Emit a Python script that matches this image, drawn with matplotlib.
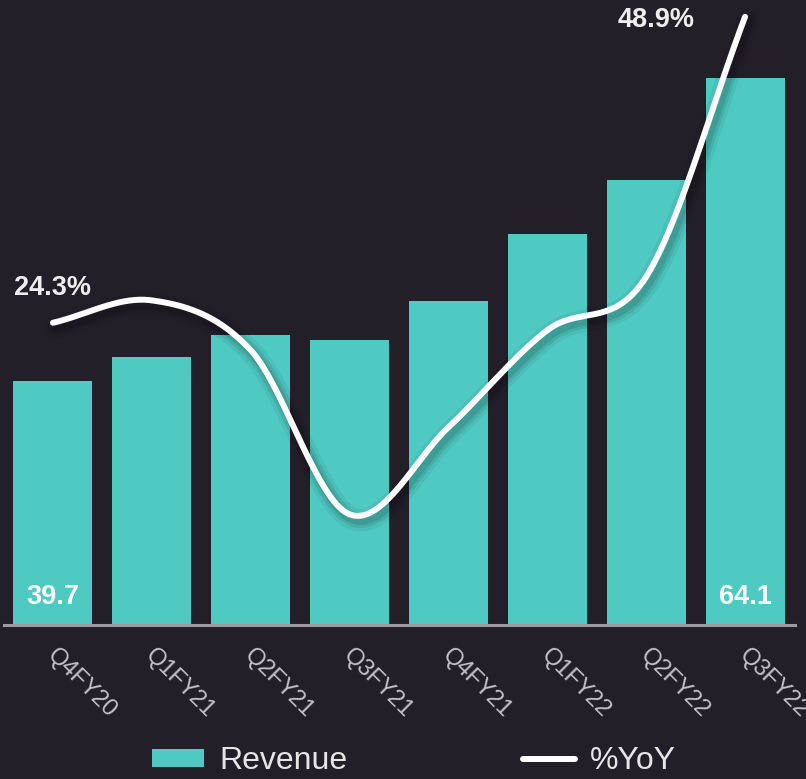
import matplotlib
matplotlib.use("Agg")
import matplotlib.pyplot as plt
import matplotlib.transforms as mtransforms
from matplotlib.patches import Patch
from matplotlib.lines import Line2D
import numpy as np

# data
quarters = ["Q4FY20", "Q1FY21", "Q2FY21", "Q3FY21", "Q4FY21", "Q1FY22", "Q2FY22", "Q3FY22"]
revenue = [39.7, 41.6, 43.4, 43.0, 46.1, 51.5, 55.9, 64.1]
yoy = [24.3, 26.1, 22.1, 8.9, 15.9, 23.7, 28.0, 48.9]

BG = "#231f29"
TEAL = "#4fcac3"
FONT = "Liberation Sans"


def smooth(xs, ys, n=40):
    # catmull-rom through the points, like a "smoothed line" in office charts
    xs = np.asarray(xs, float)
    ys = np.asarray(ys, float)
    px = np.concatenate([[2 * xs[0] - xs[1]], xs, [2 * xs[-1] - xs[-2]]])
    py = np.concatenate([[2 * ys[0] - ys[1]], ys, [2 * ys[-1] - ys[-2]]])
    outx, outy = [], []
    t = np.linspace(0, 1, n)
    for i in range(1, len(px) - 2):
        for p, out in ((px, outx), (py, outy)):
            p0, p1, p2, p3 = p[i - 1], p[i], p[i + 1], p[i + 2]
            out.extend(0.5 * ((2 * p1) + (-p0 + p2) * t
                              + (2 * p0 - 5 * p1 + 4 * p2 - p3) * t ** 2
                              + (-p0 + 3 * p1 - 3 * p2 + p3) * t ** 3))
    return np.array(outx), np.array(outy)


fig = plt.figure(figsize=(8.06, 7.79), dpi=100, facecolor=BG)
ax = fig.add_axes([3.5 / 806, 154 / 779, 791 / 806, 625 / 779])
ax.set_facecolor(BG)
x = np.arange(len(quarters))
ax.bar(x, revenue, width=0.8, color=TEAL, zorder=2)
ax.set_xlim(-0.5, 7.5)
ax.set_ylim(20.05, 20.05 + 625 * 0.0805)
ax.set_yticks([])
for s in ["top", "right", "left"]:
    ax.spines[s].set_visible(False)
ax.spines["bottom"].set_color("#9e9aa2")
ax.spines["bottom"].set_linewidth(2.2)
ax.set_xticks(x)
ax.set_xticklabels(quarters, rotation=-45, ha="left", va="top", rotation_mode="anchor",
                   color="#c4c2c6", fontsize=17, family=FONT)
ax.tick_params(axis="x", length=0, pad=14)
shift = mtransforms.ScaledTranslation(5 / 100, 0, fig.dpi_scale_trans)
for lab in ax.get_xticklabels():
    lab.set_transform(lab.get_transform() + shift)

# first and last revenue labels inside the bars
for i in (0, len(revenue) - 1):
    ax.annotate(f"{revenue[i]:.1f}", (x[i], 20.05), xytext=(0, 28), textcoords="offset pixels",
                ha="center", va="center", color="white", fontsize=19.5, fontweight="bold",
                family=FONT, zorder=4)

ax2 = ax.twinx()
ax2.set_ylim(0, 625 * 0.0804)
ax2.axis("off")
sx, sy = smooth(x, yoy)
for lw, a in ((16, 0.06), (11, 0.08), (7, 0.1)):
    ax2.plot(sx + 0.03, sy - 0.35, color="black", lw=lw, alpha=a, solid_capstyle="round", zorder=2)
ax2.plot(sx, sy, color="white", lw=4.3, solid_capstyle="round", zorder=3)

ax2.annotate(f"{yoy[0]:.1f}%", (x[0], yoy[0]), xytext=(0, 35), textcoords="offset pixels",
             ha="center", va="center", color="#eeeeee", fontsize=19.5, fontweight="bold",
             family=FONT)
ax2.annotate(f"{yoy[-1]:.1f}%", (x[-1], yoy[-1]), xytext=(-89, -3), textcoords="offset pixels",
             ha="center", va="center", color="#eeeeee", fontsize=19.5, fontweight="bold",
             family=FONT)

handles = [Patch(facecolor=TEAL, edgecolor="none", label="Revenue"),
           Line2D([], [], color="white", lw=4.3, solid_capstyle="round", label="%YoY")]
fig.legend(handles=handles, loc="center", bbox_to_anchor=(0.514, 18 / 779), ncol=2, frameon=False,
           prop={"family": FONT, "size": 23}, labelcolor="#e6e6e6", handlelength=1.63,
           handleheight=0.5, handletextpad=0.47, columnspacing=5.5, borderpad=0.1)

fig.savefig("out.png", dpi=100, facecolor=BG)
